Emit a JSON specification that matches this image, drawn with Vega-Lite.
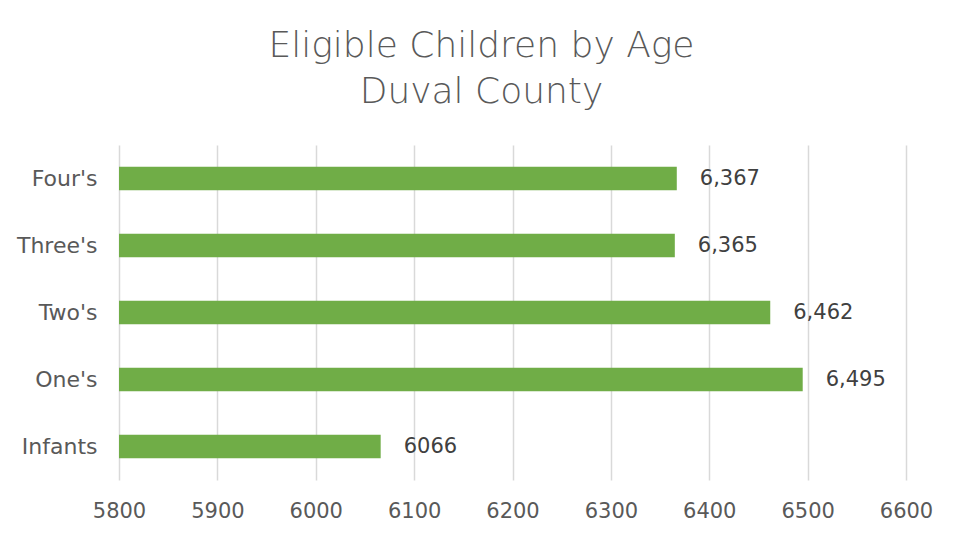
{
  "$schema": "https://vega.github.io/schema/vega-lite/v6.json",
  "autosize": {"type": "none"},
  "width": 787,
  "height": 335,
  "padding": {"left": 119, "top": 145, "right": 56, "bottom": 60},
  "background": "white",
  "title": {
    "text": ["Eligible Children by Age", "Duval County"],
    "anchor": "middle",
    "frame": "group",
    "dx": -31,
    "offset": 34,
    "font": "DejaVu Sans",
    "fontSize": 36,
    "fontWeight": 300,
    "color": "#595959",
    "lineHeight": 46
  },
  "data": {
    "values": [
      {"age": "Four's", "value": 6367, "label": "6,367"},
      {"age": "Three's", "value": 6365, "label": "6,365"},
      {"age": "Two's", "value": 6462, "label": "6,462"},
      {"age": "One's", "value": 6495, "label": "6,495"},
      {"age": "Infants", "value": 6066, "label": "6066"}
    ]
  },
  "encoding": {
    "y": {
      "field": "age",
      "type": "nominal",
      "sort": null,
      "scale": {"paddingInner": 0.65, "paddingOuter": 0.325},
      "axis": {
        "title": null,
        "domain": false,
        "ticks": false,
        "grid": false,
        "labelPadding": 22,
        "labelFont": "DejaVu Sans",
        "labelFontSize": 22,
        "labelColor": "#595959"
      }
    },
    "x": {
      "field": "value",
      "type": "quantitative",
      "scale": {"domain": [5800, 6600], "zero": false, "nice": false},
      "axis": {
        "title": null,
        "values": [5800, 5900, 6000, 6100, 6200, 6300, 6400, 6500, 6600],
        "format": "d",
        "domain": false,
        "ticks": false,
        "grid": true,
        "gridColor": "#d9d9d9",
        "gridWidth": 1.5,
        "labelFlush": false,
        "labelOverlap": false,
        "labelPadding": 20,
        "labelFont": "DejaVu Sans",
        "labelFontSize": 21,
        "labelColor": "#595959"
      }
    }
  },
  "layer": [
    {
      "mark": {"type": "bar", "color": "#70AD47", "clip": true}
    },
    {
      "mark": {
        "type": "text",
        "align": "left",
        "baseline": "middle",
        "dx": 23,
        "font": "DejaVu Sans",
        "fontSize": 21,
        "color": "#404040"
      },
      "encoding": {"text": {"field": "label", "type": "nominal"}}
    }
  ],
  "config": {"view": {"stroke": null}}
}
